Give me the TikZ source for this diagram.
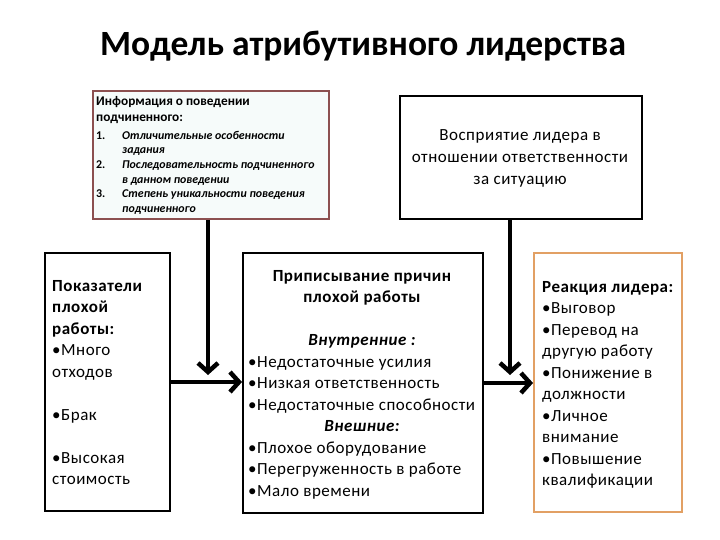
\documentclass[tikz,border=0pt]{standalone}
\usepackage{fontspec}
\setmainfont{Carlito}
\newfontfamily\bodyfont[LetterSpace=3]{Carlito}
\usetikzlibrary{arrows.meta}
\definecolor{infoborder}{RGB}{140,80,80}
\definecolor{infofill}{RGB}{246,251,250}
\definecolor{reactborder}{RGB}{226,160,100}
\tikzset{
  box/.style={draw=black, line width=1.8pt, rectangle, inner sep=0pt, anchor=north west},
  txt/.style={inner sep=0pt, anchor=north west, align=left},
  body/.style={font=\bodyfont\fontsize{17}{21.5}\selectfont},
  bigarrow/.style={line width=4.5pt, -{Straight Barb[length=9pt,width=20pt]}}
}
\begin{document}
\begin{tikzpicture}[x=1pt,y=-1pt]
\useasboundingbox (0,0) rectangle (720,540);
% title
\node[inner sep=0pt, font=\fontsize{35.5}{40}\selectfont\bfseries] (title) at (363,46) {Модель атрибутивного лидерства};
% boxes
\node[box, draw=infoborder, fill=infofill, line width=2pt, minimum width=236pt, minimum height=128pt] (info) at (92,90) {};
\node[box, minimum width=242pt, minimum height=123pt] (percep) at (399,95) {};
\node[box, minimum width=125pt, minimum height=258pt] (left) at (44,252) {};
\node[box, minimum width=240pt, minimum height=260pt] (mid) at (242,252) {};
\node[box, draw=reactborder, line width=2pt, minimum width=148pt, minimum height=259pt] (right) at (533,252) {};
% info text
\node[txt, font=\fontsize{13.3}{16}\selectfont\bfseries] (infohead) at (96,96)
{Информация о поведении\\ подчиненного:};
\node[txt, font=\fontsize{11.9}{14.6}\selectfont\bfseries] (infolist) at (96,131)
{\makebox[26pt][l]{1.}\textit{Отличительные особенности}\\
\hspace*{26pt}\textit{задания}\\
\makebox[26pt][l]{2.}\textit{Последовательность подчиненного}\\
\hspace*{26pt}\textit{в данном поведении}\\
\makebox[26pt][l]{3.}\textit{Степень уникальности поведения}\\
\hspace*{26pt}\textit{подчиненного}};
% perception text
\node[inner sep=0pt, align=center, font=\bodyfont\fontsize{17}{22}\selectfont] (perceptxt) at (520,158)
{Восприятие лидера в\\ отношении ответственности\\ за ситуацию};
% left text
\node[txt, body] (lefttxt) at (52,280)
{\textbf{Показатели}\\ \textbf{плохой}\\ \textbf{работы:}\\
•Много\\ отходов\\[21.5pt]
•Брак\\[21.5pt]
•Высокая\\ стоимость};
% middle text
\node[txt, body] (midtxt) at (248,270)
{\makebox[228pt]{\textbf{Приписывание причин}}\\
\makebox[228pt]{\textbf{плохой работы}}\\[21.5pt]
\makebox[228pt]{\textbf{\textit{Внутренние :}}}\\
•Недостаточные усилия\\
•Низкая ответственность\\
•Недостаточные способности\\
\makebox[228pt]{\textbf{\textit{Внешние:}}}\\
•Плохое оборудование\\
•Перегруженность в работе\\
•Мало времени};
% right text
\node[txt, body] (righttxt) at (542,281)
{\textbf{Реакция лидера:}\\
•Выговор\\
•Перевод на\\ другую работу\\
•Понижение в\\ должности\\
•Личное\\ внимание\\
•Повышение\\ квалификации};
% arrows
\coordinate (endA) at (208,375);
\coordinate (endB) at (510,375);
\draw[bigarrow] (info.south -| endA) -- (endA);
\draw[bigarrow] (percep.south -| endB) -- (endB);
\draw[bigarrow] (left.east |- 0,382) -- (mid.west |- 0,382);
\draw[bigarrow] (mid.east |- 0,383) -- (right.west |- 0,383);
\end{tikzpicture}
\end{document}
